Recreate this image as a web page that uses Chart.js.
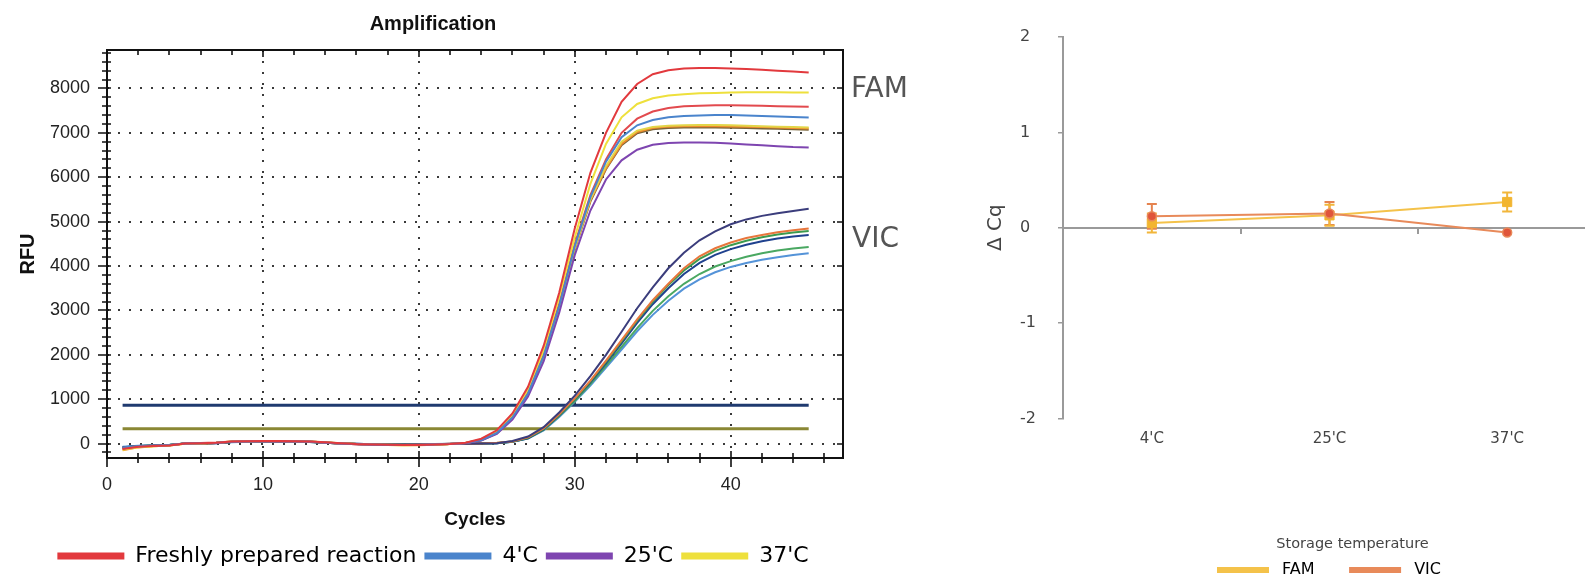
<!DOCTYPE html>
<html>
<head>
<meta charset="utf-8">
<title>Amplification / Delta Cq</title>
<script src="https://cdn.jsdelivr.net/npm/chart.js@4.4.1/dist/chart.umd.min.js"></script>
<style>
  html, body { margin: 0; padding: 0; background: #fff; }
  body { width: 1585px; height: 581px; overflow: hidden; position: relative; }
  .panel { position: absolute; top: 0; }
  #ampPanel { left: 0; width: 866px; height: 581px; }
  #dcqPanel { left: 975px; width: 708px; height: 590px; }
  .dye { position: absolute; font: 28px 'DejaVu Sans', sans-serif; color: #555; line-height: 28px; }
</style>
</head>
<body>
<div class="panel" id="ampPanel"><canvas id="ampChart"></canvas></div>
<div class="dye" style="left:851px;top:74px">FAM</div>
<div class="dye" style="left:852px;top:224px">VIC</div>
<div class="panel" id="dcqPanel"><canvas id="dcqChart"></canvas></div>
<script>
// ---------- amplification data (RFU per cycle) ----------
const cycles = [1,2,3,4,5,6,7,8,9,10,11,12,13,14,15,16,17,18,19,20,21,22,23,24,25,26,27,28,29,30,31,32,33,34,35,36,37,38,39,40,41,42,43,44,45];
const cycleTicks = [0, 10, 20, 30, 40];
const rfuTicks = [0, 1000, 2000, 3000, 4000, 5000, 6000, 7000, 8000];
const thresholdCycles = [1, 45];
const vicThreshold = 865;
const famThreshold = 335;

// FAM curves
const famFresh1 = [-120,-70,-55,-40,0,10,20,45,55,60,60,55,50,30,10,-10,-20,-25,-30,-30,-20,-10,
  20,110,300,680,1280,2200,3400,4850,6100,7000,7700,8100,8320,8410,8450,8460,8460,8450,8440,8420,8400,8380,8360];
const famFresh2 = [-100,-60,-50,-35,5,15,25,50,60,60,55,50,45,25,5,-15,-25,-30,-30,-25,-20,-5,
  15,80,250,600,1150,2000,3150,4500,5600,6400,7000,7320,7480,7560,7600,7610,7620,7620,7615,7610,7600,7595,7590];
const fam4C = [-90,-55,-45,-30,0,10,20,40,50,55,55,50,45,25,5,-10,-20,-25,-25,-25,-15,-5,
  15,80,240,590,1130,1970,3100,4450,5550,6350,6900,7170,7290,7350,7380,7390,7400,7400,7390,7380,7370,7355,7345];
const fam25C = [-110,-65,-50,-35,0,10,15,40,50,55,50,50,40,20,0,-15,-25,-30,-30,-30,-20,-10,
  10,70,220,540,1060,1850,2950,4250,5250,5950,6380,6620,6730,6770,6780,6780,6775,6760,6740,6720,6700,6680,6670];
const fam37C1 = [-140,-80,-60,-40,-5,5,20,45,55,60,60,55,50,30,10,-10,-25,-30,-35,-30,-25,-10,
  20,90,270,640,1220,2100,3300,4650,5850,6750,7350,7650,7780,7840,7870,7890,7900,7910,7915,7915,7915,7910,7910];
const fam37C2 = [-120,-70,-55,-35,0,10,20,45,55,55,55,50,45,25,5,-10,-20,-25,-30,-30,-20,-10,
  15,80,240,580,1120,1950,3080,4400,5500,6250,6800,7050,7130,7160,7170,7175,7175,7170,7160,7150,7140,7130,7120];
const famOrange = [-150,-85,-60,-40,-5,5,15,40,50,55,55,50,45,25,5,-15,-25,-30,-35,-35,-25,-10,
  20,85,250,600,1150,1990,3120,4420,5480,6200,6750,7020,7110,7140,7150,7150,7150,7145,7140,7130,7120,7110,7100];
const famBrown = [-100,-60,-50,-30,0,10,20,40,50,55,50,50,40,20,0,-10,-20,-25,-25,-25,-15,-5,
  10,75,230,570,1100,1930,3050,4380,5450,6180,6720,6990,7080,7110,7120,7120,7120,7115,7110,7100,7090,7080,7070];

// VIC curves
const vicNavy = [-90,-60,-50,-35,0,5,15,35,45,50,50,45,40,25,10,-5,-15,-20,-20,-20,-15,-10,-5,0,10,
  60,160,370,700,1080,1520,2000,2520,3050,3520,3950,4300,4580,4780,4940,5050,5130,5190,5240,5290];
const vicOrange = [-110,-65,-50,-35,0,5,15,40,50,55,50,45,40,25,5,-10,-20,-25,-25,-25,-20,-10,-5,5,20,
  50,140,340,660,1020,1420,1870,2330,2800,3230,3600,3950,4220,4400,4530,4630,4700,4760,4805,4845];
const vicGreen = [-100,-60,-45,-30,0,5,15,35,45,50,50,45,40,20,5,-10,-15,-20,-20,-20,-15,-10,-5,0,15,
  45,130,330,650,1000,1400,1840,2300,2770,3200,3570,3900,4160,4340,4470,4570,4650,4710,4755,4790];
const vicBlue = [-80,-55,-45,-30,0,5,10,35,45,50,45,40,35,20,5,-10,-15,-20,-20,-20,-15,-10,-5,0,10,
  40,120,320,640,990,1380,1810,2260,2720,3140,3500,3820,4070,4250,4380,4480,4560,4620,4665,4700];
const vicGreen2 = [-90,-55,-45,-30,0,5,15,35,40,45,45,40,35,20,5,-10,-15,-20,-20,-20,-15,-10,-5,0,10,
  40,120,310,620,960,1340,1750,2180,2600,2990,3320,3600,3820,3990,4110,4210,4290,4350,4395,4430];
const vicSky = [-70,-50,-40,-25,0,5,10,30,40,45,45,40,35,20,5,-5,-15,-15,-20,-15,-10,-5,0,0,10,
  40,115,300,600,940,1310,1710,2120,2530,2900,3220,3490,3700,3860,3980,4070,4140,4200,4250,4290];

// ---------- delta Cq data ----------
const temps = ["4'C", "25'C", "37'C"];
const famDcq = [0.05, 0.13, 0.27];
const famErr = [0.10, 0.11, 0.10];
const vicDcq = [0.12, 0.15, -0.05];
const vicErr = [0.13, 0.12, 0];
const dcqTicks = [-2, -1, 0, 1, 2];

const arial = "'Liberation Sans', Arial, sans-serif";
const gothic = "'DejaVu Sans', sans-serif";

// ============================================
// AMPLIFICATION PLOT
// ============================================

const ampSeries = [
  ['Freshly prepared reaction', famFresh1, '#e2393d'],
  ["4'C", fam4C, '#4a84cc'],
  ["25'C", fam25C, '#7e45b0'],
  ["37'C", fam37C1, '#eee03c'],
  ['', famFresh2, '#e24a4e'],
  ['', fam37C2, '#e2d548'],
  ['', famOrange, '#f08a2c'],
  ['', famBrown, '#7a6538'],
  ['', vicNavy, '#3b3d7c'],
  ['', vicOrange, '#e8763c'],
  ['', vicGreen, '#3c9a4e'],
  ['', vicBlue, '#1f418e'],
  ['', vicGreen2, '#4aa862'],
  ['', vicSky, '#5493d8']
];

const ampDatasets = ampSeries.map(([label, values, color]) => ({
  label: label,
  data: values.map((v, i) => ({ x: cycles[i], y: v })),
  borderColor: color,
  backgroundColor: color,
  borderWidth: 2,
  pointRadius: 0,
  fill: false
}));

ampDatasets.push({
  label: '',
  data: thresholdCycles.map(c => ({ x: c, y: vicThreshold })),
  borderColor: '#1f3a6f', backgroundColor: '#1f3a6f',
  borderWidth: 3, pointRadius: 0, order: 1
});
ampDatasets.push({
  label: '',
  data: thresholdCycles.map(c => ({ x: c, y: famThreshold })),
  borderColor: '#8a8734', backgroundColor: '#8a8734',
  borderWidth: 3, pointRadius: 0, order: 1
});

// dotted grid + boxed frame with inward ticks
const ampFrame = {
  id: 'ampFrame',
  beforeDatasetsDraw(chart) {
    const { ctx, chartArea: a, scales: { x, y } } = chart;
    ctx.save();
    ctx.strokeStyle = '#3a3a3a';
    ctx.lineWidth = 2;
    ctx.setLineDash([2, 9]);
    ctx.beginPath();
    rfuTicks.forEach(v => {
      const py = Math.round(y.getPixelForValue(v));
      ctx.moveTo(a.left, py);
      ctx.lineTo(a.right, py);
    });
    cycleTicks.filter(v => v > 0).forEach(v => {
      const px = Math.round(x.getPixelForValue(v));
      ctx.moveTo(px, a.top);
      ctx.lineTo(px, a.bottom);
    });
    ctx.stroke();
    ctx.restore();
  },
  afterDatasetsDraw(chart) {
    const { ctx, chartArea: a, scales: { x, y } } = chart;
    ctx.save();
    ctx.strokeStyle = '#111';
    ctx.lineWidth = 2;
    ctx.strokeRect(a.left, a.top, a.right - a.left, a.bottom - a.top);
    ctx.lineWidth = 1.6;
    ctx.beginPath();
    for (let c = 0; c <= x.max; c += 2) {
      const px = Math.round(x.getPixelForValue(c));
      const major = c % 10 === 0;
      ctx.moveTo(px, a.bottom + (major ? 9 : 5));
      ctx.lineTo(px, a.bottom - (major ? 7 : 5));
      ctx.moveTo(px, a.top);
      ctx.lineTo(px, a.top + (major ? 7 : 5));
    }
    for (let v = -200; v <= y.max; v += 200) {
      const py = Math.round(y.getPixelForValue(v));
      const major = v % 1000 === 0;
      ctx.moveTo(a.left - (major ? 9 : 5), py);
      ctx.lineTo(a.left + 4, py);
      if (major) {
        ctx.moveTo(a.right, py);
        ctx.lineTo(a.right - 6, py);
      }
    }
    ctx.stroke();
    ctx.restore();
  }
};

new Chart(document.getElementById('ampChart'), {
  type: 'line',
  data: { datasets: ampDatasets },
  plugins: [ampFrame],
  options: {
    responsive: true,
    maintainAspectRatio: false,
    animation: false,
    layout: { padding: { left: 23, right: 23, top: 0, bottom: 4 } },
    plugins: {
      tooltip: { enabled: false },
      title: {
        display: true,
        text: 'Amplification',
        color: '#111',
        font: { family: arial, size: 20, weight: 'bold' },
        padding: { top: 12, bottom: 14 }
      },
      legend: {
        position: 'bottom',
        labels: {
          boxWidth: 67,
          boxHeight: 7,
          padding: 8,
          color: '#444',
          font: { family: gothic, size: 22 },
          generateLabels: chart => chart.data.datasets
            .map((d, i) => ({ text: d.label, fillStyle: d.borderColor, strokeStyle: d.borderColor,
              lineWidth: 0, hidden: false, datasetIndex: i }))
            .filter(item => item.text)
        }
      }
    },
    scales: {
      x: {
        type: 'linear',
        min: 0,
        max: 47.2,
        afterBuildTicks: s => { s.ticks = cycleTicks.map(v => ({ value: v })); },
        grid: { display: false, drawTicks: false },
        border: { display: false },
        ticks: { color: '#222', padding: 16.2, font: { family: arial, size: 18 }, callback: v => String(v) },
        title: {
          display: true, text: 'Cycles', color: '#111',
          font: { family: arial, size: 19, weight: 'bold' },
          padding: { top: -3.4, bottom: 5.6 }
        }
      },
      y: {
        min: -324,
        max: 8866,
        afterBuildTicks: s => { s.ticks = rfuTicks.map(v => ({ value: v })); },
        afterFit: s => { s.width = 84; },
        grid: { display: false, drawTicks: false },
        border: { display: false },
        ticks: { color: '#222', padding: 17, font: { family: arial, size: 18 }, callback: v => String(v) },
        title: {
          display: true, text: 'RFU', color: '#111',
          font: { family: arial, size: 20, weight: 'bold' },
          padding: { top: -7, bottom: 0 }
        }
      }
    }
  }
});

// ============================================
// DELTA CQ PLOT
// ============================================

// zero line with category ticks, plus error bars
const dcqAxis = {
  id: 'dcqAxis',
  beforeDatasetsDraw(chart) {
    const { ctx, chartArea: a, scales: { x, y } } = chart;
    const py = Math.round(y.getPixelForValue(0));
    ctx.save();
    ctx.strokeStyle = '#9a9a9a';
    ctx.lineWidth = 2;
    ctx.beginPath();
    ctx.moveTo(a.left, py);
    ctx.lineTo(a.right, py);
    for (let i = 1; i <= temps.length; i++) {
      const px = Math.round((x.getPixelForValue(i - 1) + x.getPixelForValue(i)) / 2);
      ctx.moveTo(px, py);
      ctx.lineTo(px, py + 6);
    }
    ctx.stroke();

    chart.data.datasets.forEach((ds, di) => {
      const meta = chart.getDatasetMeta(di);
      ctx.strokeStyle = ds.errColor;
      ctx.lineWidth = 2;
      ds.errors.forEach((e, i) => {
        if (!e) return;
        const px = meta.data[i].x;
        const top = y.getPixelForValue(ds.data[i] + e);
        const bot = y.getPixelForValue(ds.data[i] - e);
        ctx.beginPath();
        ctx.moveTo(px, top); ctx.lineTo(px, bot);
        ctx.moveTo(px - 5, top); ctx.lineTo(px + 5, top);
        ctx.moveTo(px - 5, bot); ctx.lineTo(px + 5, bot);
        ctx.stroke();
      });
    });
    ctx.restore();
  }
};

new Chart(document.getElementById('dcqChart'), {
  type: 'line',
  data: {
    labels: temps,
    datasets: [
      {
        label: 'VIC',
        data: vicDcq,
        errors: vicErr,
        errColor: '#e5834f',
        borderColor: '#e88a5a',
        backgroundColor: '#e0553a',
        borderWidth: 2,
        pointStyle: 'circle',
        pointRadius: 4.5,
        pointBorderColor: '#e8895a',
        pointBorderWidth: 1.5
      },
      {
        label: 'FAM',
        data: famDcq,
        errors: famErr,
        errColor: '#f2b63a',
        borderColor: '#f4c24a',
        backgroundColor: '#f2b530',
        borderWidth: 2,
        pointStyle: 'rect',
        pointRadius: 6.5,
        pointBorderColor: '#f2b530',
        pointBorderWidth: 1
      }
    ]
  },
  plugins: [dcqAxis],
  options: {
    responsive: true,
    maintainAspectRatio: false,
    animation: false,
    layout: { padding: { left: 87, right: 87, top: 37, bottom: 2 } },
    plugins: {
      tooltip: { enabled: false },
      legend: {
        position: 'bottom',
        labels: {
          boxWidth: 52,
          boxHeight: 6,
          padding: 4,
          color: '#444',
          font: { family: gothic, size: 16 },
          generateLabels: chart => ['FAM', 'VIC'].map((name, k) => {
            const i = chart.data.datasets.findIndex(d => d.label === name);
            const d = chart.data.datasets[i];
            return { text: ' ' + name + (k === 0 ? '      ' : ''), fillStyle: d.borderColor,
              strokeStyle: d.borderColor, lineWidth: 0, hidden: false, datasetIndex: i };
          })
        }
      }
    },
    scales: {
      x: {
        type: 'category',
        offset: true,
        grid: { display: false, drawTicks: false },
        border: { display: false },
        ticks: { color: '#444', padding: 11.2, font: { family: gothic, size: 15 } },
        title: {
          display: true, text: '          Storage temperature', color: '#444',
          font: { family: gothic, size: 14.5 },
          padding: { top: 77, bottom: 4.7 }
        }
      },
      y: {
        min: -2,
        max: 2,
        afterBuildTicks: s => { s.ticks = dcqTicks.map(v => ({ value: v })); },
        afterFit: s => { s.width = 1; },
        grid: { drawOnChartArea: false, tickLength: 5, color: '#9a9a9a', lineWidth: 1.5 },
        border: { display: true, color: '#9a9a9a', width: 2 },
        ticks: { mirror: true, color: '#444', padding: -43, font: { family: gothic, size: 16 } },
        title: {
          display: true, text: 'Δ Cq', color: '#444',
          font: { family: gothic, size: 20 },
          padding: { top: -78, bottom: 0 }
        }
      }
    }
  }
});
</script>
</body>
</html>
